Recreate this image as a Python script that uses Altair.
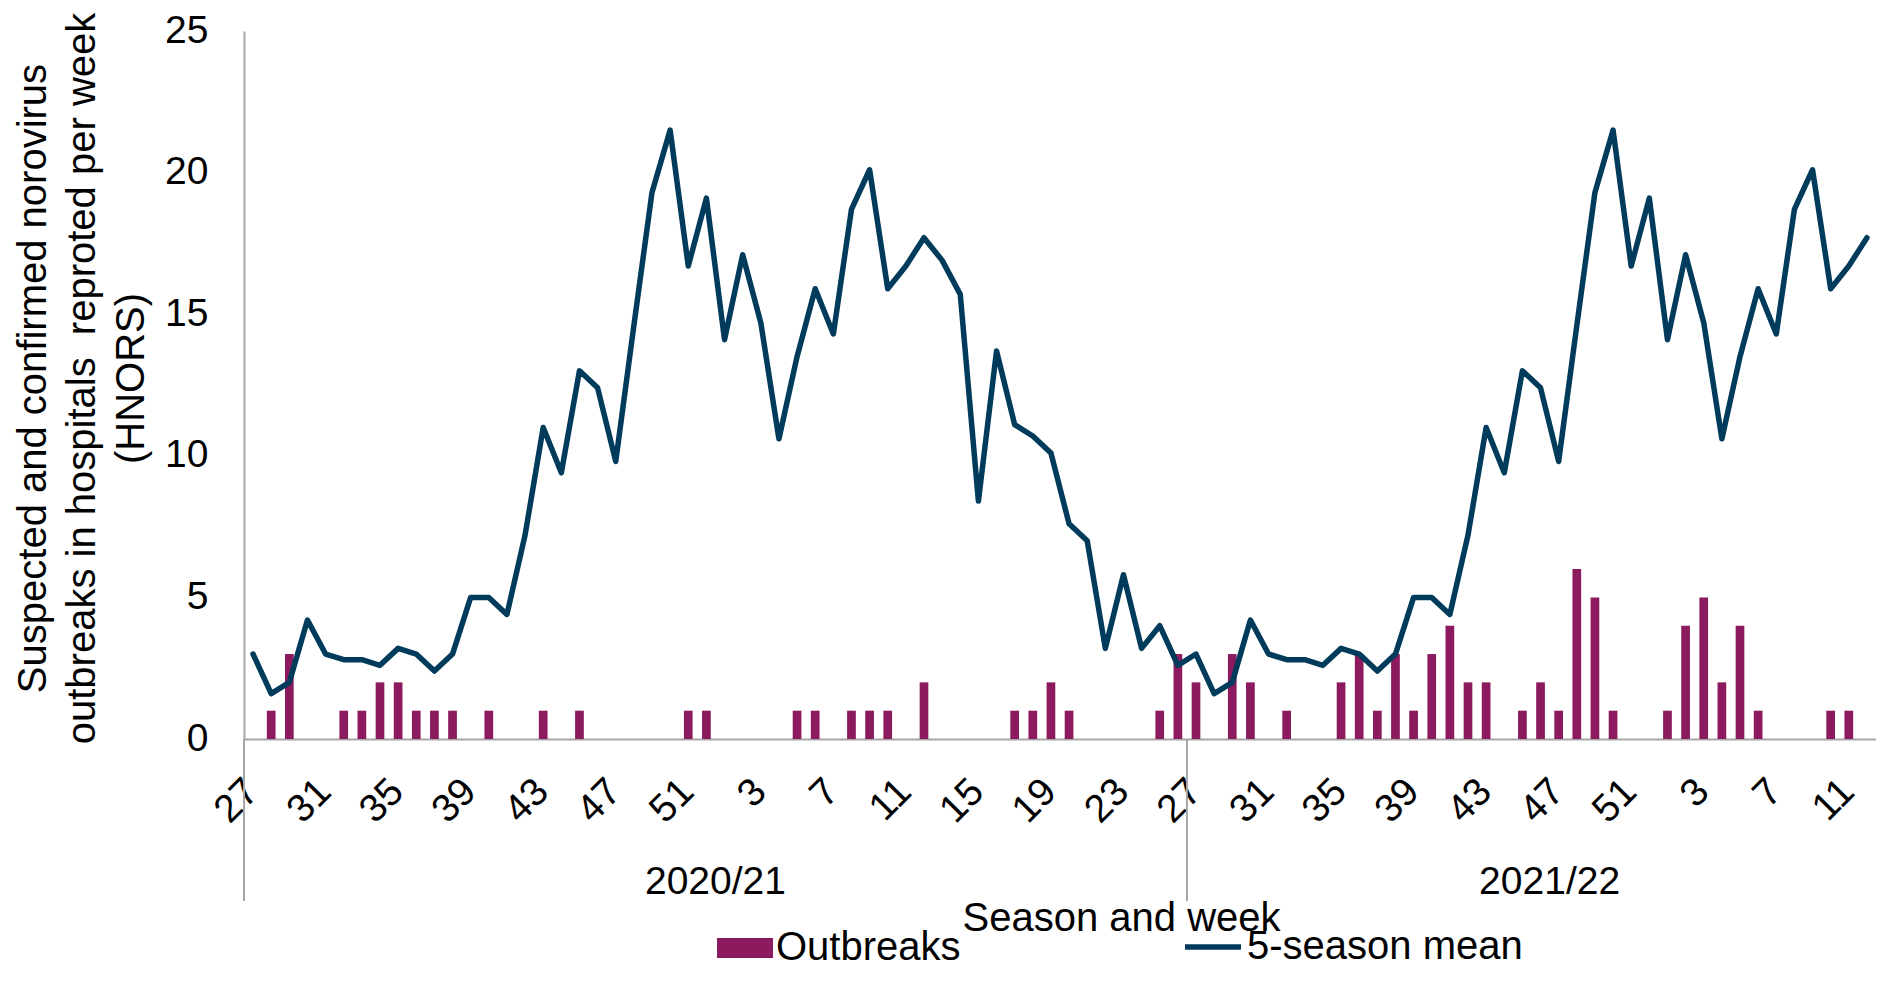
import altair as alt
import pandas as pd

# ---------------- data ----------------
seasons = ["2020/21", "2021/22"]

weeks_2020_21 = [27, 28, 29, 30, 31, 32, 33, 34, 35, 36, 37, 38, 39, 40, 41, 42, 43, 44,
                 45, 46, 47, 48, 49, 50, 51, 52, 1, 2, 3, 4, 5, 6, 7, 8, 9, 10, 11, 12,
                 13, 14, 15, 16, 17, 18, 19, 20, 21, 22, 23, 24, 25, 26]
weeks_2021_22 = [27, 28, 29, 30, 31, 32, 33, 34, 35, 36, 37, 38, 39, 40, 41, 42, 43, 44,
                 45, 46, 47, 48, 49, 50, 51, 52, 1, 2, 3, 4, 5, 6, 7, 8, 9, 10, 11, 12]

outbreaks_2020_21 = [0, 1, 3, 0, 0, 1, 1, 2, 2, 1, 1, 1, 0, 1, 0, 0, 1, 0,
                     1, 0, 0, 0, 0, 0, 1, 1, 0, 0, 0, 0, 1, 1, 0, 1, 1, 1, 0, 2,
                     0, 0, 0, 0, 1, 1, 2, 1, 0, 0, 0, 0, 1, 3]
outbreaks_2021_22 = [2, 0, 3, 2, 0, 1, 0, 0, 2, 3, 1, 3, 1, 3, 4, 2, 2, 0,
                     1, 2, 1, 6, 5, 1, 0, 0, 1, 4, 5, 2, 4, 1, 0, 0, 0, 1, 1, 0]

# 5-season mean by week (weeks 27..52, 1..26)
mean_5season = [3.0, 1.6, 2.0, 4.2, 3.0, 2.8, 2.8, 2.6, 3.2, 3.0, 2.4, 3.0, 5.0, 5.0,
                4.4, 7.2, 11.0, 9.4, 13.0, 12.4, 9.8, 14.6, 19.3, 21.5, 16.7, 19.1,
                14.1, 17.1, 14.7, 10.6, 13.5, 15.9, 14.3, 18.7, 20.1, 15.9, 16.7, 17.7,
                16.9, 15.7, 8.4, 13.7, 11.1, 10.7, 10.1, 7.6, 7.0, 3.2, 5.8, 3.2, 4.0, 2.6]

y_ticks = [0, 5, 10, 15, 20, 25]

series_bar = "Outbreaks"
series_line = "5-season mean"

# ---------------- tables built from the arrays ----------------
rows = []
for season, weeks, outb in [(seasons[0], weeks_2020_21, outbreaks_2020_21),
                            (seasons[1], weeks_2021_22, outbreaks_2021_22)]:
    for i, (w, o) in enumerate(zip(weeks, outb)):
        rows.append({"key": f"{season}|{w}", "season": season, "week": w,
                     "outbreaks": o, "mean": mean_5season[i],
                     "bar_series": series_bar, "line_series": series_line})
df = pd.DataFrame(rows)
keys = list(df["key"])

season_starts = pd.DataFrame({"key": [f"{seasons[0]}|27", f"{seasons[1]}|27"]})
season_labels = pd.DataFrame({"key": [f"{seasons[0]}|1", f"{seasons[1]}|47"],
                              "season": seasons})

FONT = "Liberation Sans"
GRAY = "#A6A6A6"
BAR = "#8C1A5E"
LINE = "#003B5C"
FS_TICK = 39
FS_TITLE = 40
PLOT_W = 1632
PLOT_H = 708

xscale = alt.Scale(domain=keys, paddingInner=0, paddingOuter=0)

x_axis = alt.Axis(
    values=keys[::4],
    labelExpr="split(datum.label, '|')[1]",
    labelAngle=-45, labelAlign="right", labelBaseline="middle",
    labelPadding=46, labelOffset=-1,
    ticks=False, tickSize=0, grid=False,
    domainColor=GRAY, domainWidth=2,
    labelFontSize=FS_TICK, labelFont=FONT, labelColor="black",
    labelOverlap=False, labelBound=False, labelFlush=False,
    title="Season and week", titleFontSize=FS_TITLE, titleFont=FONT,
    titleFontWeight="normal", titleColor="black",
    titleX=877, titleY=179, titleAlign="center", titleBaseline="middle",
)

y_axis = alt.Axis(
    values=y_ticks, ticks=False, tickSize=0, grid=False,
    domainColor=GRAY, domainWidth=2,
    labelPadding=36, labelOffset=-1,
    labelFontSize=FS_TICK, labelFont=FONT, labelColor="black",
    title=["Suspected and confirmed norovirus",
           "outbreaks in hospitals\u00a0 reproted per week",
           "(HNORS)"],
    titleFontSize=FS_TITLE, titleFont=FONT, titleFontWeight="normal", titleColor="black",
    titleLineHeight=49, titleX=-211, titleY=347, titleAlign="center",
    titleBaseline="middle", titleAngle=270,
)

base = alt.Chart(df)

bars = base.mark_bar(width=alt.RelativeBandSize(0.48)).encode(
    x=alt.X("key:N", scale=xscale, sort=None, axis=x_axis),
    y=alt.Y("outbreaks:Q", scale=alt.Scale(domain=[0, 25], nice=False), axis=y_axis),
    color=alt.Color("bar_series:N",
                    scale=alt.Scale(domain=[series_bar], range=[BAR]),
                    legend=alt.Legend(
                        title=None, orient="none", legendX=473, legendY=889,
                        padding=0, symbolType="M-1,-0.357L1,-0.357L1,0.357L-1,0.357Z",
                        symbolSize=3136, symbolStrokeWidth=0, labelOffset=3,
                        labelFontSize=FS_TITLE, labelFont=FONT, labelColor="black",
                        labelLimit=600)),
)

line = base.mark_line(strokeWidth=5.5, strokeCap="round", strokeJoin="round").encode(
    x=alt.X("key:N", scale=xscale, sort=None),
    y=alt.Y("mean:Q"),
    stroke=alt.Stroke("line_series:N",
                      scale=alt.Scale(domain=[series_line], range=[LINE]),
                      legend=alt.Legend(
                          title=None, orient="none", legendX=938, legendY=885,
                          padding=0, symbolType="stroke", symbolSize=3136,
                          symbolStrokeWidth=5.5, labelOffset=3,
                          labelFontSize=FS_TITLE, labelFont=FONT, labelColor="black",
                          labelLimit=600)),
)

dividers = alt.Chart(season_starts).mark_rule(color=GRAY, strokeWidth=2).encode(
    x=alt.X("key:N", scale=xscale, sort=None, bandPosition=0),
    y=alt.value(PLOT_H),
    y2=alt.value(PLOT_H + 162),
)

labels = alt.Chart(season_labels).mark_text(
    fontSize=FS_TICK, font=FONT, color="black", align="center", baseline="middle"
).encode(
    x=alt.X("key:N", scale=xscale, sort=None, bandPosition=0),
    y=alt.value(851),
    text="season:N",
)

chart = alt.layer(bars, line, dividers, labels).properties(
    width=PLOT_W, height=PLOT_H,
    padding={"left": 236, "top": 23, "right": 0, "bottom": 229},
    autosize=alt.AutoSizeParams(type="none"),
).configure(font=FONT).configure_view(stroke=None)

chart.save("out.html", embed_options={"renderer": "svg", "actions": False})
